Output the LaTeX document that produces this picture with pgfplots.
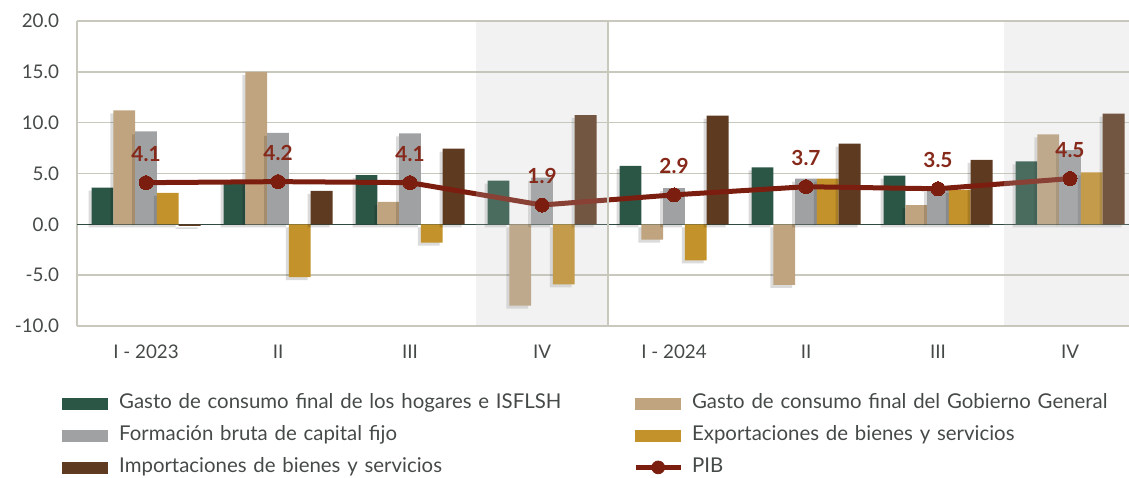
\documentclass[border=0pt]{standalone}
\usepackage{fontspec}
\setmainfont{Lato}
\usepackage{pgfplots}
\pgfplotsset{compat=1.18}
\usetikzlibrary{shadows}
\definecolor{cHog}{HTML}{2B5646}
\definecolor{cGob}{HTML}{BFA47F}
\definecolor{cFbk}{HTML}{A0A1A3}
\definecolor{cExp}{HTML}{C4922B}
\definecolor{cImp}{HTML}{5E3A20}
\definecolor{cPib}{HTML}{7B1E10}
\definecolor{cLab}{HTML}{86291A}
\definecolor{cGrid}{HTML}{C8C8BC}
\definecolor{cText}{HTML}{454A48}
\definecolor{cZero}{HTML}{2F4A42}
\definecolor{cOver}{RGB}{192,192,192}
\begin{document}
\begin{tikzpicture}
\useasboundingbox (-38.5pt,-75.5pt) rectangle (526pt,163pt);
\begin{axis}[
  scale only axis, width=526pt, height=152.5pt,
  xmin=-0.523, xmax=7.447, ymin=-10, ymax=20,
  ybar=0pt, bar width=10.9pt,
  axis y line*=left, axis x line*=bottom,
  x axis line style={draw=none},
  y axis line style={cGrid, line width=0.75pt},
  xtick={0,...,7},
  xticklabels={I - 2023, II, III, IV, I - 2024, II, III, IV},
  ytick={-10,-5,0,5,10,15,20},
  major tick length=0pt,
  ymajorgrids, grid style={cGrid, line width=0.75pt},
  extra y ticks={0}, extra y tick labels={},
  extra y tick style={grid style={cZero, line width=0.6pt}},
  yticklabel style={/pgf/number format/fixed, /pgf/number format/fixed zerofill, /pgf/number format/precision=1},
  /pgf/number format/assume math mode=true,
  tick label style={font=\fontsize{9.4}{12}\selectfont, text=cText},
  xticklabel style={yshift=-6pt},
  yticklabel style={xshift=-5.5pt},
  legend columns=2,
  legend cell align=left,
  legend style={draw=none, fill=none, at={(axis description cs:0,0)}, anchor=north west,
    xshift=-7.5pt, yshift=-34pt, inner sep=0pt,
    font=\fontsize{10.2}{12}\selectfont, text=cText, row sep=7pt,
    nodes={inner xsep=0pt, inner ysep=0pt, text height=7pt, text depth=2pt},
    /tikz/every even column/.append style={text width=257pt}},
  barsh/.style={draw=none, drop shadow={shadow xshift=-1.5pt, shadow yshift=-1.5pt, opacity=0.14, fill=black}},
  swatch/.style={legend image code/.code={\fill[#1] (0pt,-2.75pt) rectangle (22.5pt,2.75pt); \path (28pt,0pt);}},
]
\addlegendimage{swatch=cHog}
\addlegendentry{Gasto de consumo final de los hogares e ISFLSH}
\addlegendimage{swatch=cGob}
\addlegendentry{Gasto de consumo final del Gobierno General}
\addlegendimage{swatch=cFbk}
\addlegendentry{Formación bruta de capital fijo}
\addlegendimage{swatch=cExp}
\addlegendentry{Exportaciones de bienes y servicios}
\addlegendimage{swatch=cImp}
\addlegendentry{Importaciones de bienes y servicios}
\addlegendimage{legend image code/.code={\draw[cPib, line width=2.5pt] (0pt,0pt) -- (22.5pt,0pt); \fill[cPib] (11.25pt,0pt) circle (3.2pt); \path (28pt,0pt);}}
\addlegendentry{PIB}
\addplot[barsh, fill=cHog]
  coordinates {(0,3.6) (1,4.3) (2,4.85) (3,4.3) (4,5.75) (5,5.6) (6,4.8) (7,6.2)};
\addplot[barsh, fill=cGob]
  coordinates {(0,11.2) (1,15.0) (2,2.2) (3,-8.0) (4,-1.5) (5,-5.95) (6,1.9) (7,8.85)};
\addplot[barsh, fill=cFbk]
  coordinates {(0,9.15) (1,9.0) (2,8.95) (3,4.6) (4,3.55) (5,4.5) (6,3.5) (7,7.3)};
\addplot[barsh, fill=cExp]
  coordinates {(0,3.1) (1,-5.2) (2,-1.8) (3,-5.9) (4,-3.55) (5,4.5) (6,3.4) (7,5.1)};
\addplot[barsh, fill=cImp]
  coordinates {(0,-0.15) (1,3.3) (2,7.45) (3,10.75) (4,10.7) (5,7.95) (6,6.35) (7,10.9)};
\addplot[sharp plot, cPib, line width=2.5pt, line join=round,
  mark=*, mark size=3.5pt, mark options={fill=cPib, draw=cPib, line width=0pt},
  nodes near coords={\pgfmathprintnumber[fixed,fixed zerofill,precision=1,assume math mode=true]{\pgfplotspointmeta}},
  every node near coord/.append style={anchor=center, yshift=14.5pt, inner sep=0pt,
    font=\fontsize{10.4}{12}\selectfont\bfseries, text=cLab}]
  coordinates {(0,4.1) (1,4.2) (2,4.1) (3,1.9) (4,2.9) (5,3.7) (6,3.5) (7,4.5)};
\fill[cOver, opacity=0.21] (axis cs:2.5,-10) rectangle (axis cs:3.5,20);
\fill[cOver, opacity=0.21] (axis cs:6.5,-10) rectangle (axis cs:7.447,20);
\draw[cGrid, line width=0.75pt] (axis cs:3.5,-10) -- (axis cs:3.5,20);
\end{axis}
\end{tikzpicture}
\end{document}
